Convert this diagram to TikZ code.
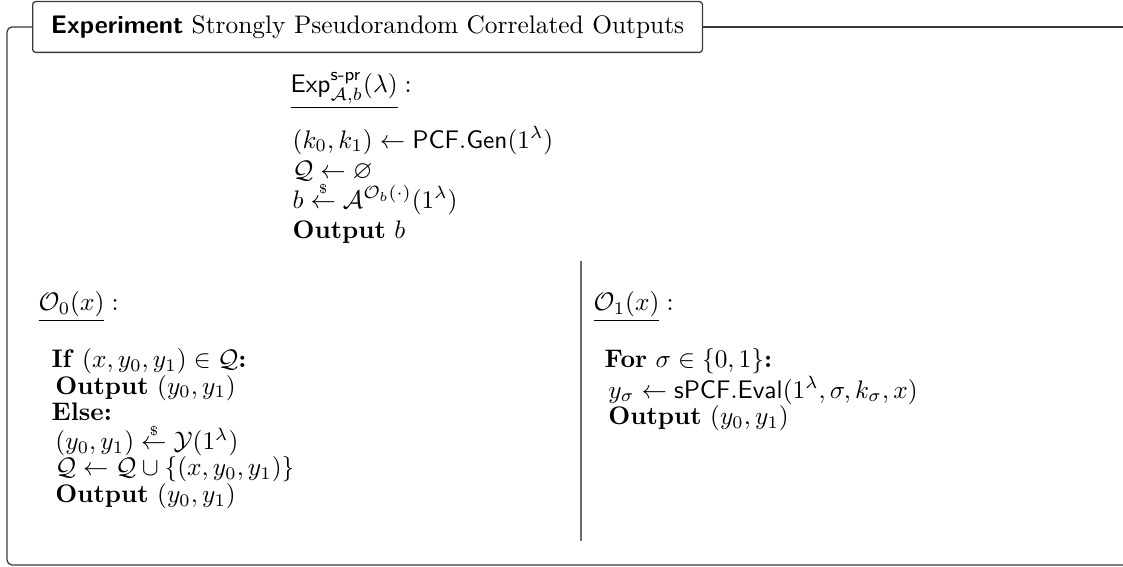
\documentclass[tikz,border=0pt]{standalone}
\usepackage{amsmath,amssymb}
\usetikzlibrary{positioning}
\definecolor{cframe}{HTML}{3A3A3A}
\definecolor{cgrey}{HTML}{6B6B6B}
\tikzset{
  every picture/.style={line width=0.5pt},
  titlebox/.style={draw=cframe, fill=white, rounded corners=1.2pt, inner xsep=7.2pt, minimum height=20pt, anchor=west},
  frameline/.style={draw=cframe, line width=0.5pt, rounded corners=2pt},
  divider/.style={draw=cgrey, line width=0.45pt},
  hdr/.style={anchor=base west, inner sep=0pt},
  algo/.style={anchor=north west, align=left, inner sep=0pt, font=\fontsize{10}{#1}\selectfont},
  algo/.default=10.4pt,
}
\newcommand{\sampl}{\overset{\scriptscriptstyle\$}{\leftarrow}}

\begin{document}
\begin{tikzpicture}[x=0.394pt, y=-0.394pt]
  \useasboundingbox (0,0) rectangle (1123,567);
  % frame and title
  \node[titlebox] (title) at (32,27) {\textsf{\textbf{Experiment}} Strongly Pseudorandom Correlated Outputs};
  \draw[frameline] (title.west) -- (7,27) -- (7,565) -- (1123,565);
  \draw[frameline] (title.east) -- (1123,27);
  % main experiment
  \node[hdr] (exp) at (290,93) {$\underline{\mathsf{Exp}^{\mathsf{s\text{-}pr}}_{\mathcal{A},b}(\lambda)}:$};
  \node[algo=11.8pt] (main) at (292,126) {$(k_0,k_1)\leftarrow\mathsf{PCF.Gen}(1^\lambda)$\\
    $\mathcal{Q}\leftarrow\varnothing$\\
    $b\sampl\mathcal{A}^{\mathcal{O}_b(\cdot)}(1^\lambda)$\\
    \textbf{Output} $b$};
  % oracle 0
  \node[hdr] (ohdr0) at (38,311) {$\underline{\mathcal{O}_0(x)}:$};
  \node[algo] (orc0) at (51,348) {\textbf{If} $(x,y_0,y_1)\in\mathcal{Q}$\textbf{:}\\
    \hspace{1.5pt}\textbf{Output} $(y_0,y_1)$\\
    \textbf{Else:}\\
    \hspace{1.5pt}$(y_0,y_1)\sampl\mathcal{Y}(1^\lambda)$\\
    \hspace{1.5pt}$\mathcal{Q}\leftarrow\mathcal{Q}\cup\{(x,y_0,y_1)\}$\\
    \hspace{1.5pt}\textbf{Output} $(y_0,y_1)$};
  % oracle 1
  \draw[divider] (581,261) -- (581,541);
  \node[hdr] (ohdr1) at (593,311) {$\underline{\mathcal{O}_1(x)}:$};
  \node[algo] (orc1) at (604,348) {\textbf{For} $\sigma\in\{0,1\}$\textbf{:}\\
    \hspace{1.5pt}$y_\sigma\leftarrow\mathsf{sPCF.Eval}(1^\lambda,\sigma,k_\sigma,x)$\\
    \hspace{1.5pt}\textbf{Output} $(y_0,y_1)$};
\end{tikzpicture}
\end{document}
